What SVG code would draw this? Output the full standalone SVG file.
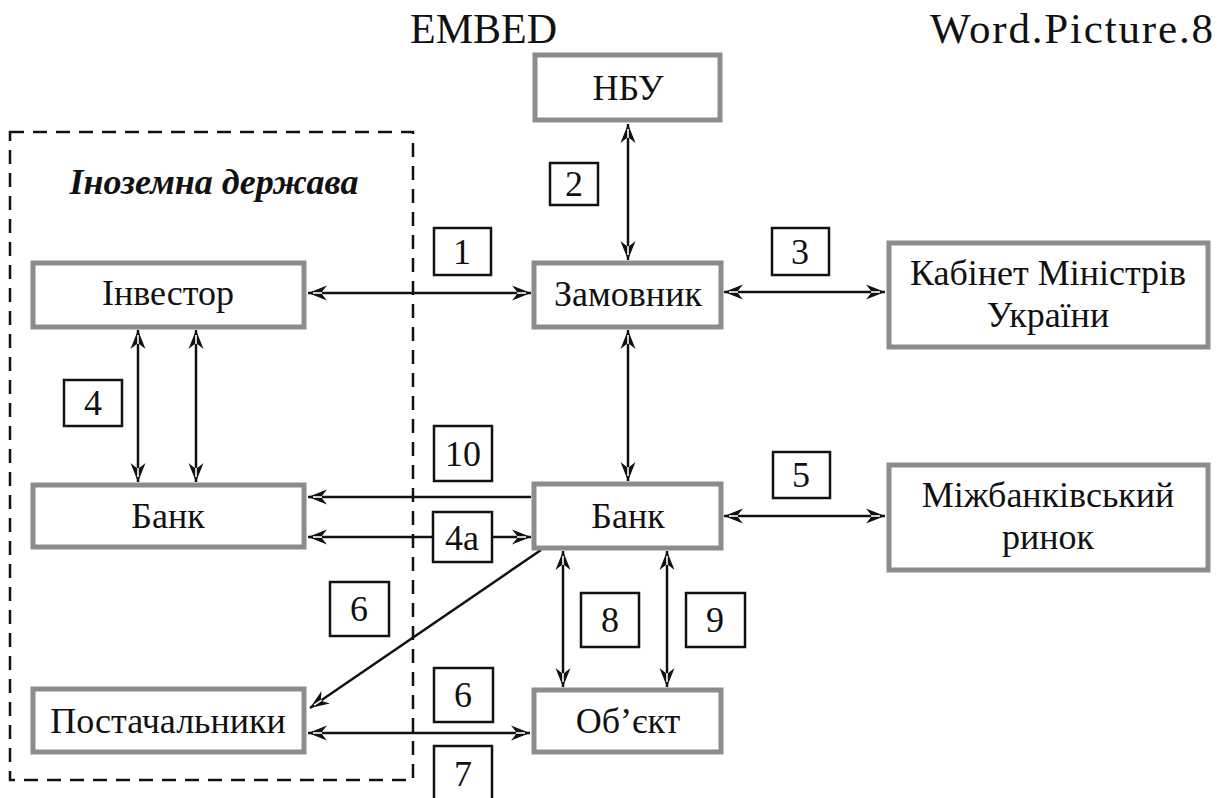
<svg xmlns="http://www.w3.org/2000/svg" width="1227" height="798" viewBox="0 0 1227 798">
<style>
.box{fill:#fff;stroke:#8c8c8c;stroke-width:5}
.lbl{fill:#fff;stroke:#111;stroke-width:2.5}
.t{font-family:"Liberation Serif","Times New Roman",serif;font-size:36px;fill:#111;text-anchor:middle}
.n{font-family:"Liberation Serif","Times New Roman",serif;font-size:36px;fill:#111;text-anchor:middle}
.ln{stroke:#111;stroke-width:2.5;fill:none}
</style>
<defs>
<marker id="ah" markerUnits="userSpaceOnUse" markerWidth="24" markerHeight="18" refX="0" refY="0" viewBox="-18 -9 24 18" orient="auto-start-reverse" overflow="visible">
<path d="M0,0 L-19,-7.5 L-13,0 L-19,7.5 Z" fill="#111"/>
<path d="M-14,0 L-5,0" stroke="#fff" stroke-width="1.6"/>
</marker>
</defs>
<rect width="1227" height="798" fill="#fff"/>
<text x="410" y="43" font-family="Liberation Serif, serif" font-size="42" fill="#111">EMBED</text>
<text x="930" y="43" font-family="Liberation Serif, serif" font-size="43" fill="#111" textLength="283" lengthAdjust="spacing">Word.Picture.8</text>
<g id="foreign">
<rect x="10" y="132" width="403" height="648" fill="none" stroke="#111" stroke-width="2.5" stroke-dasharray="14,9"/>
<text x="214" y="194" font-family="Liberation Serif, serif" font-size="36" font-weight="bold" font-style="italic" fill="#111" text-anchor="middle">Іноземна держава</text>
</g>
<g id="connectors">
<line class="ln" x1="628" y1="124" x2="628" y2="260" marker-start="url(#ah)" marker-end="url(#ah)"/>
<line class="ln" x1="308" y1="293" x2="531" y2="293" marker-start="url(#ah)" marker-end="url(#ah)"/>
<line class="ln" x1="724" y1="292" x2="885" y2="292" marker-start="url(#ah)" marker-end="url(#ah)"/>
<line class="ln" x1="138" y1="330" x2="138" y2="482" marker-start="url(#ah)" marker-end="url(#ah)"/>
<line class="ln" x1="196" y1="330" x2="196" y2="482" marker-start="url(#ah)" marker-end="url(#ah)"/>
<line class="ln" x1="628" y1="330" x2="628" y2="481" marker-start="url(#ah)" marker-end="url(#ah)"/>
<line class="ln" x1="531" y1="497" x2="308" y2="497" marker-end="url(#ah)"/>
<line class="ln" x1="308" y1="537" x2="531" y2="537" marker-start="url(#ah)" marker-end="url(#ah)"/>
<line class="ln" x1="724" y1="516" x2="885" y2="516" marker-start="url(#ah)" marker-end="url(#ah)"/>
<line class="ln" x1="563" y1="551" x2="563" y2="687" marker-start="url(#ah)" marker-end="url(#ah)"/>
<line class="ln" x1="667" y1="551" x2="667" y2="687" marker-start="url(#ah)" marker-end="url(#ah)"/>
<line class="ln" x1="541" y1="550" x2="310" y2="708" marker-end="url(#ah)"/>
<line class="ln" x1="308" y1="733" x2="530" y2="733" marker-start="url(#ah)" marker-end="url(#ah)"/>
</g>
<g id="nbu"><rect class="box" x="535" y="55" width="185" height="65"/><text class="t" x="628" y="100">НБУ</text></g>
<g id="zamovnyk"><rect class="box" x="534" y="263" width="187" height="64"/><text class="t" x="628" y="306">Замовник</text></g>
<g id="kabmin"><rect class="box" x="889" y="243" width="319" height="104"/><text class="t" x="1048" y="285">Кабінет Міністрів</text><text class="t" x="1048" y="327">України</text></g>
<g id="investor"><rect class="box" x="33" y="263" width="271" height="64"/><text class="t" x="168" y="305">Інвестор</text></g>
<g id="bank-foreign"><rect class="box" x="33" y="485" width="271" height="62"/><text class="t" x="168" y="528">Банк</text></g>
<g id="bank"><rect class="box" x="534" y="484" width="187" height="64"/><text class="t" x="628" y="528">Банк</text></g>
<g id="interbank"><rect class="box" x="889" y="465" width="319" height="105"/><text class="t" x="1048" y="507">Міжбанківський</text><text class="t" x="1048" y="549">ринок</text></g>
<g id="suppliers"><rect class="box" x="33" y="689" width="271" height="63"/><text class="t" x="168" y="733">Постачальники</text></g>
<g id="object"><rect class="box" x="534" y="690" width="187" height="62"/><text class="t" x="628" y="733">Об’єкт</text></g>
<g id="labels">
<g id="l1"><rect class="lbl" x="434" y="228" width="57" height="47"/><text class="n" x="462" y="264">1</text></g>
<g id="l2"><rect class="lbl" x="550" y="163" width="48" height="42"/><text class="n" x="574" y="196">2</text></g>
<g id="l3"><rect class="lbl" x="772" y="228" width="57" height="47"/><text class="n" x="800" y="264">3</text></g>
<g id="l4"><rect class="lbl" x="64" y="380" width="58" height="46"/><text class="n" x="93" y="415">4</text></g>
<g id="l10"><rect class="lbl" x="434" y="426" width="58" height="55"/><text class="n" x="463" y="466">10</text></g>
<g id="l5"><rect class="lbl" x="773" y="452" width="57" height="46"/><text class="n" x="801" y="487">5</text></g>
<g id="l4a"><rect class="lbl" x="433" y="512" width="59" height="50"/><text class="n" x="462" y="550">4а</text></g>
<g id="l6a"><rect class="lbl" x="330" y="582" width="59" height="54"/><text class="n" x="359" y="621">6</text></g>
<g id="l8"><rect class="lbl" x="581" y="593" width="58" height="54"/><text class="n" x="610" y="632">8</text></g>
<g id="l9"><rect class="lbl" x="686" y="593" width="59" height="54"/><text class="n" x="715" y="632">9</text></g>
<g id="l6b"><rect class="lbl" x="434" y="668" width="59" height="54"/><text class="n" x="463" y="707">6</text></g>
<g id="l7"><rect class="lbl" x="434" y="746" width="58" height="60"/><text class="n" x="463" y="786">7</text></g>
</g>
</svg>
